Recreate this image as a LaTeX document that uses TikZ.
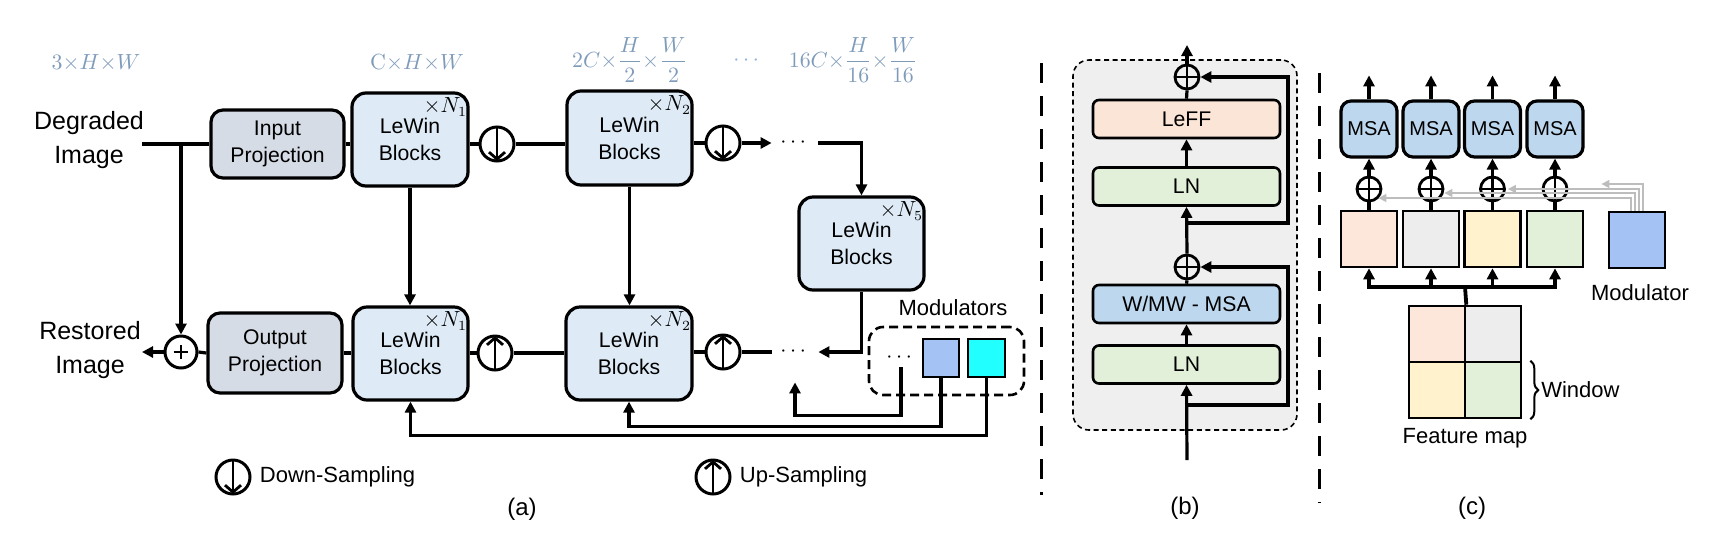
\documentclass[tikz,border=0pt]{standalone}
\usepackage{amsmath}
\usepackage[no-math]{fontspec}
\setmainfont{Liberation Sans}
\usetikzlibrary{arrows.meta,calc,decorations.pathreplacing}
\definecolor{ink}{HTML}{000000}
\definecolor{dimtext}{HTML}{7F9BBA}
\definecolor{dimdots}{HTML}{8FB0DC}
\definecolor{projfill}{HTML}{D6DCE5}
\definecolor{lewinfill}{HTML}{DEEBF7}
\definecolor{lefffill}{HTML}{FBE5D6}
\definecolor{lnfill}{HTML}{E2F0D9}
\definecolor{msafill}{HTML}{BDD7EE}
\definecolor{blockbg}{HTML}{EFEFEF}
\definecolor{modblue}{HTML}{A4C2F4}
\definecolor{modcyan}{HTML}{22FFFF}
\definecolor{winpeach}{HTML}{FDE6DA}
\definecolor{wingray}{HTML}{EDEDED}
\definecolor{winyellow}{HTML}{FFF2CC}
\definecolor{wingreen}{HTML}{E2F0D9}
\definecolor{modline}{HTML}{BDBDBD}

\begin{document}
\begin{tikzpicture}[
  x=0.5pt, y=-0.5pt,
  font=\fontsize{11}{13}\selectfont,
  >={Triangle[length=5.5pt,width=5.5pt]},
  box/.style={draw=ink, line width=1.6pt, align=center, inner sep=0pt, font=\fontsize{10.6}{13.5}\selectfont},
  proj/.style={box, fill=projfill, rounded corners=6pt},
  lewin/.style={box, fill=lewinfill, rounded corners=7pt},
  layer/.style={box, line width=1.3pt, rounded corners=3pt, minimum width=93.5pt, minimum height=19pt},
  msa/.style={box, fill=msafill, rounded corners=5pt, minimum size=28pt, font=\fontsize{10}{12}\selectfont},
  patch/.style={draw=ink, line width=1.3pt, minimum size=28pt, inner sep=0pt},
  reps/.style={anchor=north east, inner sep=0pt, xshift=-1pt, yshift=-3pt, font=\fontsize{10.5}{12}\selectfont},
  dimlabel/.style={text=dimtext, inner sep=0pt, font=\fontsize{11}{13}\selectfont},
  iolabel/.style={align=center, inner sep=0pt, font=\fontsize{12.5}{17}\selectfont},
  caption/.style={font=\fontsize{12}{14}\selectfont},
  dotsnode/.style={inner sep=0pt, minimum width=23pt, minimum height=30pt},
  wire/.style={draw=ink, line width=1.6pt},
  flow/.style={wire, ->},
  graywire/.style={draw=modline, line width=0.8pt, -{Triangle[length=4pt,width=4pt]}},
  sampler/.style={circle, draw=ink, line width=1.5pt, minimum size=17pt, inner sep=0pt},
  downsamp/.style={sampler, path picture={\draw[line width=1.4pt, -{Straight Barb[length=3.5pt,width=8pt]}] (path picture bounding box.north) -- (path picture bounding box.south);}},
  upsamp/.style={sampler, path picture={\draw[line width=1.4pt, -{Straight Barb[length=3.5pt,width=8pt]}] (path picture bounding box.south) -- (path picture bounding box.north);}},
  addsym/.style={circle, draw=ink, line width=1.5pt, minimum size=16pt, inner sep=0pt, path picture={\draw[line width=0.9pt] ($(path picture bounding box.center)+(-3.7pt,0)$) -- ++(7.4pt,0) ($(path picture bounding box.center)+(0,-3.7pt)$) -- ++(0,7.4pt);}},
  oplus/.style={circle, draw=ink, line width=1.4pt, minimum size=12pt, inner sep=0pt, path picture={\draw[line width=1.4pt] (path picture bounding box.north) -- (path picture bounding box.south) (path picture bounding box.west) -- (path picture bounding box.east);}},
  separator/.style={draw=ink, line width=1.5pt, dash pattern=on 10pt off 6.5pt}
]
\useasboundingbox (0,0) rectangle (1712,542);

% (a) overall pipeline
\node[dimlabel] (dim0) at (96,63) {$3{\times}H{\times}W$};
\node[dimlabel] (dim1) at (417,63) {$\mathrm{C}{\times}H{\times}W$};
\node[dimlabel] (dim2) at (630,60) {$2C{\times}\dfrac{H}{2}{\times}\dfrac{W}{2}$};
\node[dimlabel, text=dimdots] (dim3) at (748,61) {$\cdots$};
\node[dimlabel] (dim4) at (853,60) {$16C{\times}\dfrac{H}{16}{\times}\dfrac{W}{16}$};

\node[iolabel] (degraded) at (89,140) {Degraded\\Image};
\node[iolabel] (restored) at (90,350) {Restored\\Image};
\coordinate (inpt) at (142,144);
\coordinate (skip) at (181,144);
\coordinate (outpt) at (142,352);

\node[proj, minimum width=66.5pt, minimum height=34pt] (inproj) at (277.5,144) {Input\\Projection};
\node[lewin, minimum width=58pt, minimum height=46.5pt] (enc1) at (410,139.5) {LeWin\\Blocks};
\node[reps] at (enc1.north east) {$\times N_1$};
\node[downsamp] (ds1) at (497,144) {};
\node[lewin, minimum width=62.5pt, minimum height=47pt] (enc2) at (629.5,138) {LeWin\\Blocks};
\node[reps] at (enc2.north east) {$\times N_2$};
\node[downsamp] (ds2) at (723,143) {};
\node[dotsnode] (dotsA) at (795,143) {$\cdots$};
\node[lewin, minimum width=62.5pt, minimum height=46.5pt] (enc5) at (861.5,243.5) {LeWin\\Blocks};
\node[reps] at (enc5.north east) {$\times N_5$};

\node[addsym] (addout) at (181,352) {};
\node[proj, minimum width=67pt, minimum height=40pt] (outproj) at (275,353) {Output\\Projection};
\node[lewin, minimum width=57.5pt, minimum height=46.5pt] (dec1) at (410.5,353.5) {LeWin\\Blocks};
\node[reps] at (dec1.north east) {$\times N_1$};
\node[upsamp] (us1) at (495,353) {};
\node[lewin, minimum width=63pt, minimum height=46.5pt] (dec2) at (629,353.5) {LeWin\\Blocks};
\node[reps] at (dec2.north east) {$\times N_2$};
\node[upsamp] (us2) at (723,352) {};
\node[dotsnode] (dotsB) at (795,352) {$\cdots$};

\draw[wire] (inpt) -- (inproj.west);
\draw[flow] (skip) -- (addout.north);
\draw[wire] (inproj.east) -- (inproj.east -| enc1.west);
\draw[wire] (enc1.east |- ds1.west) -- (ds1.west);
\draw[wire] (ds1.east) -- (ds1.east -| enc2.west);
\draw[wire] (enc2.east |- ds2.west) -- (ds2.west);
\draw[flow] (ds2.east) -- (dotsA.west);
\draw[flow] (dotsA.east) -| (enc5.north);
\draw[flow] (enc5.south) |- (dotsB.east);
\draw[wire] (dotsB.west) -- (us2.east);
\draw[wire] (us2.west) -- (us2.west -| dec2.east);
\draw[wire] (dec2.west |- us1.east) -- (us1.east);
\draw[wire] (us1.west) -- (us1.west -| dec1.east);
\draw[wire] (dec1.west |- outproj.east) -- (outproj.east);
\draw[wire] (outproj.west) -- (addout.east);
\draw[flow] (addout.west) -- (outpt);
\draw[flow] (enc1.south) -- (enc1.south |- dec1.north);
\draw[flow] (enc2.south) -- (enc2.south |- dec2.north);

% modulators
\node (modtitle) at (953,308) {Modulators};
\node[draw=ink, line width=1.3pt, dash pattern=on 4.5pt off 2.5pt, rounded corners=7pt, minimum width=77.5pt, minimum height=34pt] (modgroup) at (946.5,361) {};
\node[inner sep=0pt, minimum height=9pt] (moddots) at (901,358) {$\cdots$};
\node[patch, fill=modblue, minimum width=18pt, minimum height=19pt] (modA) at (941,358) {};
\node[patch, fill=modcyan, minimum width=18.5pt, minimum height=19pt] (modB) at (986.5,358) {};
\draw[flow] (moddots.south) -- ++(0,48) -| (dotsB.south);
\draw[flow] (modA.south) -- ++(0,48) -| (dec2.south);
\draw[flow] (modB.south) -- ++(0,57) -| (dec1.south);

% legend
\node[downsamp] (legdown) at (233,477) {};
\node[anchor=west, xshift=4pt, inner sep=0pt] (legdowntext) at (legdown.east) {Down-Sampling};
\node[upsamp] (legup) at (713,477) {};
\node[anchor=west, xshift=4pt, inner sep=0pt] (leguptext) at (legup.east) {Up-Sampling};
\node[caption] (capa) at (522,509) {(a)};

\draw[separator] (1041,63) -- (1041,495);
\draw[separator] (1319,73) -- (1319,503);

% (b) LeWin block
\node[draw=ink, line width=0.8pt, dash pattern=on 2.5pt off 1.8pt, fill=blockbg, rounded corners=8pt, minimum width=112pt, minimum height=185pt] (blockbox) at (1185,245) {};
\node[layer, fill=lefffill] (leff) at (1186.5,119) {LeFF};
\node[layer, fill=lnfill] (lnB) at (1186.5,186.5) {LN};
\node[layer, fill=msafill] (wmsa) at (1186.5,304) {W/MW - MSA};
\node[layer, fill=lnfill] (lnA) at (1186.5,364.5) {LN};
\node[oplus] (addB) at (1187,77) {};
\node[oplus] (addA) at (1187,267) {};
\coordinate (blockin) at (1187,460);
\coordinate (blockout) at (1187,45);
\coordinate (resA) at (1187,405);
\coordinate (resB) at (1187,223);
\draw[flow] (blockin) -- (lnA.south);
\draw[flow] (lnA.north) -- (wmsa.south);
\draw[wire] (wmsa.north) -- (addA.south);
\draw[flow] (addA.north) -- (lnB.south);
\draw[flow] (lnB.north) -- (leff.south);
\draw[wire] (leff.north) -- (addB.south);
\draw[flow] (addB.north) -- (blockout);
\draw[flow] (resA) -- ++(101,0) |- (addA.east);
\draw[flow] (resB) -- ++(101,0) |- (addB.east);
\node[caption] (capb) at (1185,508) {(b)};

% (c) modulated window attention
\node[msa] (msa1) at (1369,129) {MSA};
\node[msa] (msa2) at (1431,129) {MSA};
\node[msa] (msa3) at (1492.5,129) {MSA};
\node[msa] (msa4) at (1555,129) {MSA};
\node[oplus] (mix1) at (1369,189) {};
\node[oplus] (mix2) at (1431,189) {};
\node[oplus] (mix3) at (1492.5,189) {};
\node[oplus] (mix4) at (1555,189) {};
\node[patch, fill=winpeach] (win1) at (1369,239) {};
\node[patch, fill=wingray] (win2) at (1431,239) {};
\node[patch, fill=winyellow] (win3) at (1492.5,239) {};
\node[patch, fill=wingreen] (win4) at (1555,239) {};
\node[patch, fill=modblue] (modc) at (1637,240) {};
\node (modclabel) at (1640,293) {Modulator};

\draw[flow] (msa1.north) -- ++(0,-24);
\draw[flow] (msa2.north) -- ++(0,-24);
\draw[flow] (msa3.north) -- ++(0,-24);
\draw[flow] (msa4.north) -- ++(0,-24);
\draw[flow] (mix1.north) -- (msa1.south);
\draw[flow] (mix2.north) -- (msa2.south);
\draw[flow] (mix3.north) -- (msa3.south);
\draw[flow] (mix4.north) -- (msa4.south);
\draw[wire] (win1.north) -- (mix1.south);
\draw[wire] (win2.north) -- (mix2.south);
\draw[wire] (win3.north) -- (mix3.south);
\draw[wire] (win4.north) -- (mix4.south);

\draw[graywire] ($(modc.north)+(-6,0)$) |- ($(mix1.east)+(-4,9)$);
\draw[graywire] ($(modc.north)+(-2,0)$) |- ($(mix2.east)+(0,4)$);
\draw[graywire] ($(modc.north)+(2,0)$) |- ($(mix3.east)+(2,0)$);
\draw[graywire] ($(modc.north)+(6,0)$) |- ($(mix4.east)+(33,-5)$);

\node[patch, fill=winpeach] (fm11) at (1437,334) {};
\node[patch, fill=wingray] (fm12) at (1493,334) {};
\node[patch, fill=winyellow] (fm21) at (1437,390) {};
\node[patch, fill=wingreen] (fm22) at (1493,390) {};
\coordinate (split) at (1465,287);
\draw[wire, line width=1.9pt] (fm11.north east) -- (split);
\draw[flow] (split) -| (win1.south);
\draw[flow] (split) -| (win2.south);
\draw[flow] (split) -| (win3.south);
\draw[flow] (split) -| (win4.south);
\draw[line width=1pt, decorate, decoration={brace, amplitude=4pt}] ($(fm22.north east)+(8,0)$) -- ($(fm22.south east)+(8,0)$) node[midway, right=5pt, inner sep=0pt] (winlabel) {Window};
\node (fmlabel) at (1465,438) {Feature map};
\node[caption] (capc) at (1472,508) {(c)};

\end{tikzpicture}
\end{document}
